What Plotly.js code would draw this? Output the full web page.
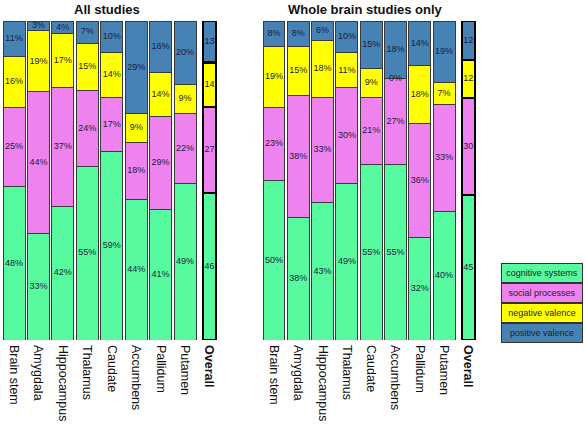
<!DOCTYPE html>
<html><head><meta charset="utf-8">
<script src="https://cdn.plot.ly/plotly-3.0.1.min.js"></script>
<style>html,body{margin:0;padding:0;background:#fff}#chart{width:585px;height:424px}</style>
</head><body><div id="chart"></div>
<script>
const regions = ['Brain stem','Amygdala','Hippocampus','Thalamus','Caudate','Accumbens','Pallidum','Putamen','Overall'];
const seriesNames = ['cognitive systems','social processes','negative valence','positive valence'];
const seriesColors = ['#57FA9E','#EE82EE','#FFFF00','#4682B4'];
const allCognitive = [48,33,42,55,59,44,41,49,46];
const allSocial    = [25,44,37,24,17,18,29,22,27];
const allNegative  = [16,19,17,15,14,9,14,9,14];
const allPositive  = [11,3,4,7,10,29,16,20,13];
const wholeCognitive = [50,38,43,49,55,55,32,40,45];
const wholeSocial    = [23,38,33,30,21,27,36,33,30];
const wholeNegative  = [19,15,18,11,9,0,18,7,12];
const wholePositive  = [8,8,6,10,15,18,14,19,12];
const panelTitles = ['All studies','Whole brain studies only'];

const panels = [
  {series:[allCognitive,allSocial,allNegative,allPositive], xa:'x', ya:'y'},
  {series:[wholeCognitive,wholeSocial,wholeNegative,wholePositive], xa:'x2', ya:'y2'}
];
const idx = regions.map((r,i)=>i);
const isOverall = regions.map(r=>r==='Overall');
const widths = isOverall.map(o=>o?0.55:0.9);
const lineW = isOverall.map(o=>o?2.2:1);
const lineC = isOverall.map(o=>o?'#000':'#3a3a3a');

const traces = [];
panels.forEach((p,pi)=>{
  const totals = idx.map(i=>p.series.reduce((s,arr)=>s+arr[i],0));
  const cum = idx.map(()=>0);
  const lx=[], ly=[], lt=[];
  p.series.forEach((vals,si)=>{
    traces.push({
      type:'bar', x:idx, y:vals, xaxis:p.xa, yaxis:p.ya,
      name:seriesNames[si], showlegend:false,
      width:widths,
      marker:{color:seriesColors[si], line:{color:lineC, width:lineW}},
      hoverinfo:'skip'
    });
    idx.forEach(i=>{
      lx.push(i);
      ly.push((cum[i]+vals[i]/2)/totals[i]*100);
      lt.push(isOverall[i] ? String(vals[i]) : vals[i]+'%');
      cum[i]+=vals[i];
    });
  });
  traces.push({type:'scatter', mode:'text', x:lx, y:ly, text:lt, xaxis:p.xa, yaxis:p.ya,
    textfont:{family:'Liberation Sans, Arial, sans-serif', size:9, color:'#1c1c40'},
    showlegend:false, hoverinfo:'skip', cliponaxis:false});
});

const tickText = regions.map(r=>r==='Overall'?'<b>'+r+'</b>':r);
const xBase = {range:[-0.5,8.5], tickvals:idx, ticktext:tickText, tickangle:90,
  tickfont:{family:'Liberation Sans, Arial, sans-serif', size:12.5, color:'#111'},
  showgrid:false, zeroline:false, showline:false, ticks:'', ticklabelstandoff:4, fixedrange:true};
const yBase = {range:[0,100], visible:false, showgrid:false, zeroline:false, fixedrange:true};

const annotations = [];
const titleX = [107, 365.5];
panelTitles.forEach((t,i)=>annotations.push({text:'<b>'+t+'</b>', xref:'paper', yref:'paper',
  x:titleX[i]/585, y:1, xanchor:'center', yanchor:'bottom', yshift:2, showarrow:false,
  font:{family:'Liberation Sans, Arial, sans-serif', size:13, color:'#111'}}));
const legendY = [0.21, 0.147, 0.0846, 0.0219];
seriesNames.forEach((n,i)=>annotations.push({text:n, xref:'paper', yref:'paper',
  x:542/585, y:legendY[i], xanchor:'center', yanchor:'middle', showarrow:false,
  width:80, height:18, borderpad:0, borderwidth:1, bordercolor:'#333', bgcolor:seriesColors[i],
  font:{family:'Liberation Sans, Arial, sans-serif', size:9, color:'#222'}}));

const layout = {
  width:585, height:424, margin:{l:0,r:0,t:21,b:84},
  paper_bgcolor:'#fff', plot_bgcolor:'#fff',
  barmode:'stack', barnorm:'percent', showlegend:false,
  xaxis:Object.assign({domain:[1.8/585, 221.7/585], anchor:'y'}, xBase),
  xaxis2:Object.assign({domain:[261.9/585, 480.5/585], anchor:'y2'}, xBase),
  yaxis:Object.assign({anchor:'x'}, yBase),
  yaxis2:Object.assign({anchor:'x2'}, yBase),
  annotations:annotations
};
Plotly.newPlot('chart', traces, layout, {displayModeBar:false, staticPlot:true});
</script></body></html>
